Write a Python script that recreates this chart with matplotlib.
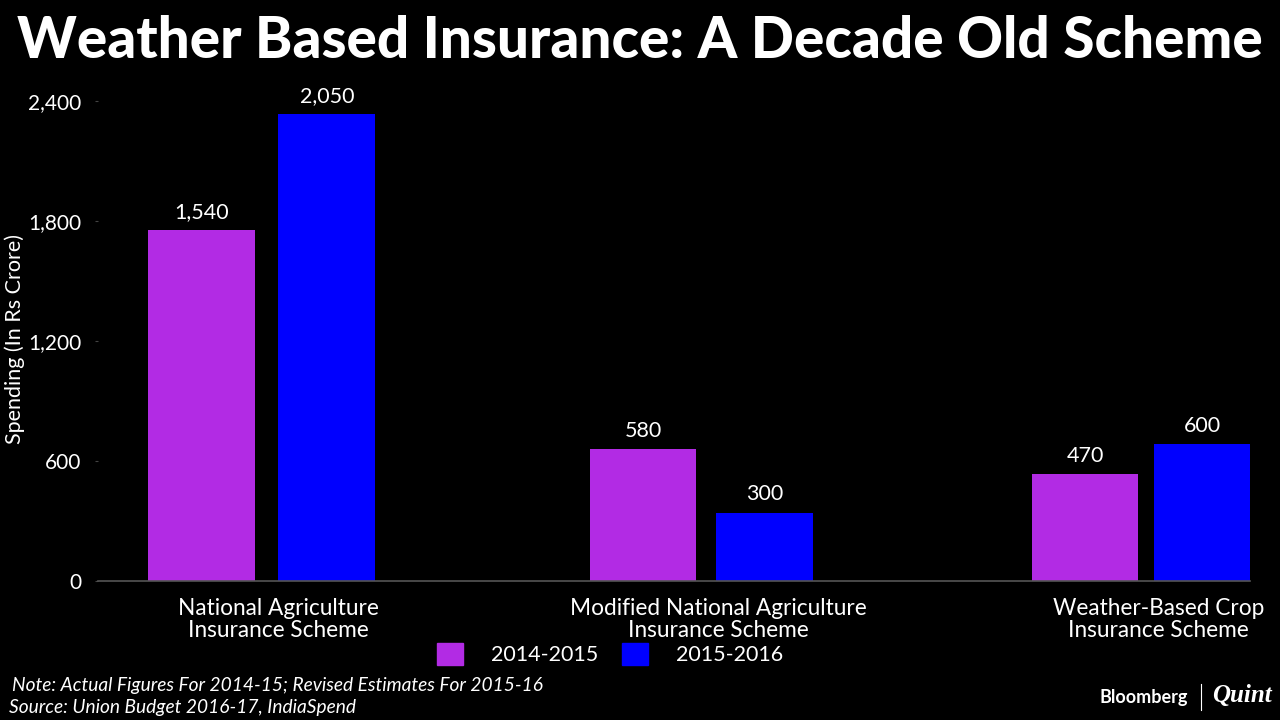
import matplotlib.pyplot as plt
from matplotlib.patches import Rectangle

# values (Rs crore)
categories = ["National Agriculture\nInsurance Scheme",
              "Modified National Agriculture\nInsurance Scheme",
              "Weather-Based Crop\nInsurance Scheme"]
series_names = ["2014-2015", "2015-2016"]
spend_1415 = [1540, 580, 470]
spend_1516 = [2050, 300, 600]
tick_values = [0, 600, 1200, 1800, 2400]

# the original graphic draws its axis labels ~1.14x tighter than the bars
axis_scale = 1.138

purple = "#B22BE4"
blue = "#0000FF"

plt.rcParams['font.family'] = ['Lato', 'DejaVu Sans']

fig = plt.figure(figsize=(12.8, 7.2), dpi=100, facecolor="black")
ax = fig.add_axes([98 / 1280, 139 / 720, 1152 / 1280, 483 / 720])
ax.set_facecolor("black")

x = list(range(len(categories)))
b1 = ax.bar([i * 1.004 - 0.135 for i in x], spend_1415, width=0.242, color=purple, zorder=2)
b2 = ax.bar([i * 0.995 + 0.15 for i in x], spend_1516, width=0.22, color=blue, zorder=2)

for bars, vals in ((b1, spend_1415), (b2, spend_1516)):
    for rect, v in zip(bars, vals):
        ax.annotate(f"{v:,}", (rect.get_x() + rect.get_width() / 2, v),
                    xytext=(0, 6), textcoords="offset points",
                    ha="center", va="bottom", color="white", fontsize=15.5)

ax.set_xlim(-0.37, 2.248)
top = tick_values[-1] / axis_scale * 483 / 480
ax.set_ylim(0, top)
ax.set_yticks([t / axis_scale for t in tick_values])
ax.set_yticklabels([f"{t:,}" for t in tick_values], color="white", fontsize=15)
ax.tick_params(axis="y", length=2, color="#444444", pad=10)

ax.set_xticks([i + 0.04 for i in x])
ax.set_xticklabels(categories, color="white", fontsize=16.3, linespacing=1.05)
ax.tick_params(axis="x", length=0, pad=12)

for s in ("top", "right", "left"):
    ax.spines[s].set_visible(False)
ax.spines["bottom"].set_color("#555555")
ax.spines["bottom"].set_linewidth(1.2)

ax.set_ylabel("Spending (In Rs Crore)", color="white", fontsize=15.5)
ax.yaxis.set_label_coords(-0.063, 0.5)

fig.text(0.5, 1 - 42 / 720, "Weather Based Insurance: A Decade Old Scheme",
         ha="center", va="center", color="white", fontsize=40.8, fontweight="black")

# legend
ax.legend([Rectangle((0, 0), 1, 1, color=purple), Rectangle((0, 0), 1, 1, color=blue)],
          series_names, loc="center", bbox_to_anchor=(610 / 1280, 1 - 654 / 720),
          bbox_transform=fig.transFigure, ncol=2, frameon=False,
          fontsize=15.5, labelcolor="white", handlelength=1.2, handleheight=1.2,
          columnspacing=1.1, handletextpad=1.3)

fig.text(12 / 1280, 1 - 686 / 720, "Note: Actual Figures For 2014-15; Revised Estimates For 2015-16",
         ha="left", va="center", color="white", fontsize=13.8, style="italic")
fig.text(9 / 1280, 1 - 708 / 720, "Source: Union Budget 2016-17, IndiaSpend",
         ha="left", va="center", color="white", fontsize=13.8, style="italic")

fig.text(1188 / 1280, 1 - 697 / 720, "Bloomberg", ha="right", va="center",
         color="white", fontsize=13, fontweight="bold")
fig.add_artist(plt.Line2D([1201 / 1280, 1201 / 1280], [1 - 710 / 720, 1 - 684 / 720],
                          color="white", linewidth=0.8))
fig.text(1212 / 1280, 1 - 696 / 720, "Quint", ha="left", va="center",
         color="white", fontsize=18, style="italic", fontweight="bold",
         family="Liberation Serif")

fig.savefig("out.png", dpi=100, facecolor="black")
